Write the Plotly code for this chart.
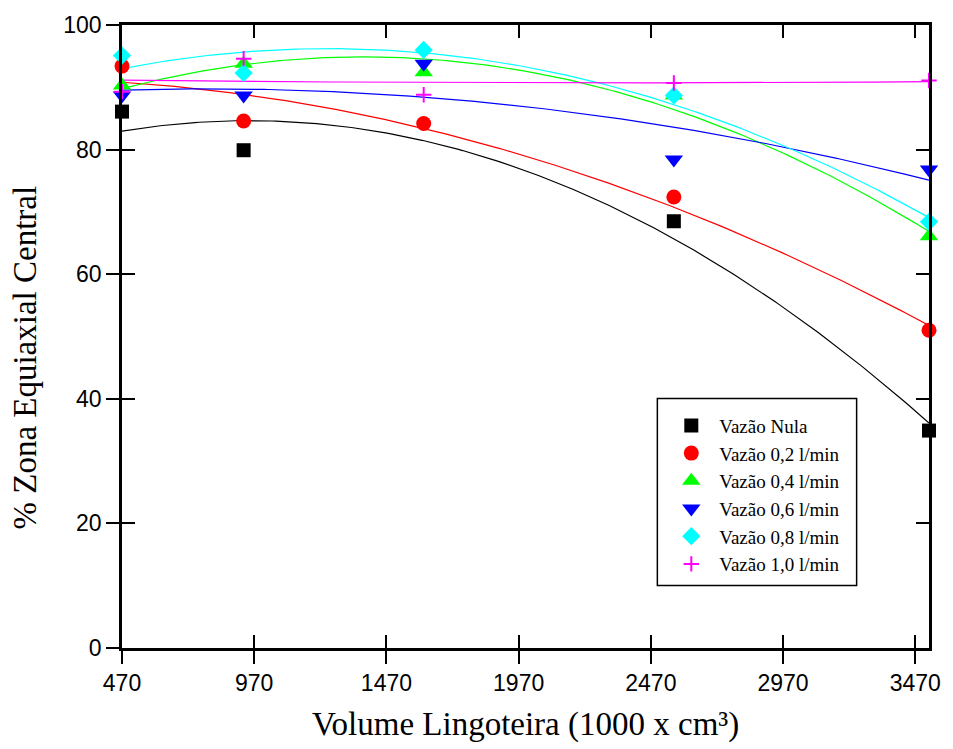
import numpy as np
import plotly.graph_objects as go

# Mould volume (1000 x cm^3) for each casting
volume = [470, 930, 1611, 2557, 3522]
volume_nula = [470, 930, 2557, 3522]

# Central equiaxed zone (%) for each argon flow rate
zona_nula = [86.1, 79.9, 68.5, 34.9]
zona_02 = [93.4, 84.6, 84.2, 72.4, 51.0]
zona_04 = [90.3, 93.8, 92.4, 88.7, 66.1]
zona_06 = [88.7, 88.7, 93.8, 78.4, 76.8]
zona_08 = [95.1, 92.3, 96.0, 88.7, 68.4]
zona_10 = [89.3, 94.6, 88.8, 90.7, 91.1]

series_names = ["Vazão Nula", "Vazão 0,2 l/min", "Vazão 0,4 l/min",
                "Vazão 0,6 l/min", "Vazão 0,8 l/min", "Vazão 1,0 l/min"]

x_ticks = [470, 970, 1470, 1970, 2470, 2970, 3470]
y_ticks = [0, 20, 40, 60, 80, 100]
x_range = [470, 3522]
y_range = [0, 100]

series = [
    (volume_nula, zona_nula, "#000000", "square", 14),
    (volume, zona_02, "#ff0000", "circle", 15),
    (volume, zona_04, "#00ff00", "triangle-up", 16),
    (volume, zona_06, "#0000ff", "triangle-down", 16),
    (volume, zona_08, "#00ffff", "diamond", 14),
    (volume, zona_10, "#ff00ff", "cross-thin", 11),
]

fig = go.Figure()
xs_fit = np.linspace(x_range[0], x_range[1], 200)

# second-order polynomial fit for each flow rate
for (xv, yv, color, sym, size), name in zip(series, series_names):
    coef = np.polyfit(xv, yv, 2)
    fig.add_trace(go.Scatter(
        x=xs_fit, y=np.polyval(coef, xs_fit), mode="lines",
        line=dict(color=color, width=1.2), showlegend=False,
        hoverinfo="skip", cliponaxis=False))

for (xv, yv, color, sym, size), name in zip(series, series_names):
    marker = dict(symbol=sym, size=size, color=color)
    if sym == "cross-thin":
        marker["line"] = dict(color=color, width=2)
    else:
        marker["line"] = dict(width=0)
    fig.add_trace(go.Scatter(
        x=xv, y=yv, mode="markers", name=name, marker=marker,
        cliponaxis=False))

axis_font = dict(family="Liberation Sans, Arial, sans-serif", size=23, color="#000000")
serif = "Liberation Serif, Times New Roman, serif"

fig.update_layout(
    width=953, height=749, autosize=False,
    margin=dict(l=122, r=17, t=21, b=101),
    paper_bgcolor="#ffffff", plot_bgcolor="#ffffff",
    showlegend=True,
    legend=dict(
        x=(668 - 122) / 814, y=(648 - 405) / 627, xanchor="left", yanchor="top",
        bgcolor="rgba(0,0,0,0)", borderwidth=0, itemwidth=46,
        font=dict(family=serif, size=19, color="#000000"),
    ),
    xaxis=dict(
        range=x_range, tickmode="array", tickvals=x_ticks,
        ticks="outside", ticklen=13, tickwidth=2, tickcolor="#000000",
        showline=True, linewidth=2.5, linecolor="#000000", mirror=True,
        showgrid=False, zeroline=False, tickfont=axis_font,
    ),
    yaxis=dict(
        range=y_range, tickmode="array", tickvals=y_ticks,
        ticks="outside", ticklen=13, tickwidth=2, tickcolor="#000000",
        showline=True, linewidth=2.5, linecolor="#000000", mirror=True,
        showgrid=False, zeroline=False, tickfont=axis_font,
    ),
    # inner tick marks on all four sides
    xaxis2=dict(
        range=x_range, tickmode="array", tickvals=x_ticks, overlaying="x",
        anchor="y", side="bottom", ticks="inside", ticklen=13, tickwidth=2,
        tickcolor="#000000", mirror="allticks", showline=False,
        showticklabels=False, showgrid=False, zeroline=False,
    ),
    yaxis2=dict(
        range=y_range, tickmode="array", tickvals=y_ticks, overlaying="y",
        anchor="x", side="left", ticks="inside", ticklen=13, tickwidth=2,
        tickcolor="#000000", mirror="allticks", showline=False,
        showticklabels=False, showgrid=False, zeroline=False,
    ),
    shapes=[dict(
        type="rect", xref="paper", yref="paper",
        x0=(662 - 122) / 814, x1=(863 - 122) / 814,
        y0=(648 - 585) / 627, y1=(648 - 397) / 627,
        line=dict(color="#000000", width=1.5), fillcolor="rgba(0,0,0,0)",
        layer="below",
    )],
    annotations=[
        dict(text="Volume Lingoteira (1000 x cm³)", xref="paper", yref="paper",
             x=0.5, y=0, xanchor="center", yanchor="middle", yshift=-76,
             showarrow=False, font=dict(family=serif, size=33, color="#000000")),
        dict(text="% Zona Equiaxial Central", xref="paper", yref="paper",
             x=0, y=0.5, xanchor="center", yanchor="middle", xshift=-98, yshift=-21,
             textangle=-90, showarrow=False,
             font=dict(family=serif, size=33, color="#000000")),
    ],
)

# invisible trace so the overlay axes are drawn
fig.add_trace(go.Scatter(x=[x_range[0]], y=[y_range[0]], xaxis="x2", yaxis="y2",
                         mode="markers", marker=dict(opacity=0), showlegend=False,
                         hoverinfo="skip"))

fig.write_html("out.html")
